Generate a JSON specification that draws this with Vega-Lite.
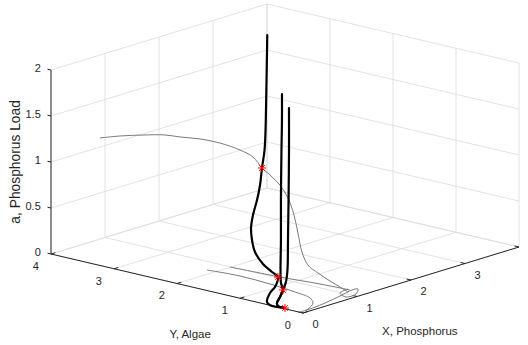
{
  "$schema": "https://vega.github.io/schema/vega-lite/v6.json",
  "autosize": {"type": "fit", "contains": "padding"},
  "width": 528,
  "height": 345,
  "padding": 0,
  "background": "white",
  "config": {"view": {"stroke": null}, "text": {"font": "Liberation Sans"}},
  "datasets": {
    "xv": [{"t": 0, "lab": "0"}, {"t": 1, "lab": "1"}, {"t": 2, "lab": "2"}, {"t": 3, "lab": "3"}, {"t": 4, "lab": "4"}],
    "yv": [{"t": 0, "lab": "0"}, {"t": 1, "lab": "1"}, {"t": 2, "lab": "2"}, {"t": 3, "lab": "3"}, {"t": 4, "lab": "4"}],
    "zv": [{"t": 0, "lab": "0"}, {"t": 0.5, "lab": "0.5"}, {"t": 1, "lab": "1"}, {"t": 1.5, "lab": "1.5"}, {"t": 2, "lab": "2"}],
    "axes": [
      {"X": 0, "Y": 4, "Z": 0, "X2": 0, "Y2": 4, "Z2": 2},
      {"X": 0, "Y": 0, "Z": 0, "X2": 0, "Y2": 4, "Z2": 0},
      {"X": 0, "Y": 0, "Z": 0, "X2": 4, "Y2": 0, "Z2": 0}
    ],
    "titles": [
      {"lab": "Y, Algae", "X": -0.2, "Y": 1.62, "Z": -0.46},
      {"lab": "X, Phosphorus", "X": 1.93, "Y": -0.2, "Z": -0.52}
    ],
    "vtitle": [{"lab": "a, Phosphorus Load", "X": -0.5, "Y": 4.13, "Z": 1.07}],
    "gray": [
      {"id": "G", "o": 1, "X": 0.586, "Y": 3.725, "Z": 1.2},
      {"id": "G", "o": 2, "X": 0.815, "Y": 3.604, "Z": 1.2},
      {"id": "G", "o": 3, "X": 1.065, "Y": 3.453, "Z": 1.19},
      {"id": "G", "o": 4, "X": 1.307, "Y": 3.312, "Z": 1.17},
      {"id": "G", "o": 5, "X": 1.421, "Y": 3.171, "Z": 1.15},
      {"id": "G", "o": 6, "X": 1.609, "Y": 3.014, "Z": 1.12},
      {"id": "G", "o": 7, "X": 1.755, "Y": 2.822, "Z": 1.08},
      {"id": "G", "o": 8, "X": 1.834, "Y": 2.572, "Z": 1.03},
      {"id": "G", "o": 9, "X": 1.856, "Y": 2.384, "Z": 0.98},
      {"id": "G", "o": 10, "X": 1.805, "Y": 2.198, "Z": 0.9},
      {"id": "G", "o": 11, "X": 1.787, "Y": 2.056, "Z": 0.85},
      {"id": "G", "o": 12, "X": 1.743, "Y": 1.86, "Z": 0.78},
      {"id": "G", "o": 13, "X": 1.678, "Y": 1.676, "Z": 0.68},
      {"id": "G", "o": 14, "X": 1.554, "Y": 1.475, "Z": 0.55},
      {"id": "G", "o": 15, "X": 1.442, "Y": 1.316, "Z": 0.4},
      {"id": "G", "o": 16, "X": 1.296, "Y": 1.127, "Z": 0.25},
      {"id": "G", "o": 17, "X": 1.213, "Y": 0.961, "Z": 0.15},
      {"id": "G", "o": 18, "X": 1.177, "Y": 0.771, "Z": 0.1},
      {"id": "G", "o": 19, "X": 1.126, "Y": 0.536, "Z": 0.06},
      {"id": "G", "o": 20, "X": 1.094, "Y": 0.351, "Z": 0.03},
      {"id": "G", "o": 21, "X": 1.082, "Y": 0.214, "Z": 0},
      {"id": "F1", "o": 1, "X": 0.992, "Y": 2.009, "Z": 0},
      {"id": "F1", "o": 2, "X": 1.021, "Y": 1.637, "Z": 0},
      {"id": "F1", "o": 3, "X": 1.05, "Y": 1.266, "Z": 0},
      {"id": "F1", "o": 4, "X": 1.132, "Y": 0.7, "Z": 0},
      {"id": "F1", "o": 5, "X": 1.167, "Y": 0.253, "Z": 0},
      {"id": "F2", "o": 1, "X": 0.704, "Y": 2.128, "Z": 0},
      {"id": "F2", "o": 2, "X": 0.764, "Y": 1.654, "Z": 0},
      {"id": "F2", "o": 3, "X": 0.73, "Y": 1.15, "Z": 0},
      {"id": "F2", "o": 4, "X": 0.657, "Y": 0.69, "Z": 0},
      {"id": "F2", "o": 5, "X": 0.571, "Y": 0.378, "Z": 0},
      {"id": "F2", "o": 6, "X": 0.423, "Y": 0.204, "Z": 0},
      {"id": "F2", "o": 7, "X": 0.177, "Y": 0.073, "Z": 0},
      {"id": "F2", "o": 8, "X": 0.01, "Y": 0.056, "Z": 0},
      {"id": "F3", "o": 1, "X": 0.085, "Y": 0.041, "Z": 0},
      {"id": "F3", "o": 2, "X": 0.52, "Y": 0.096, "Z": 0},
      {"id": "F3", "o": 3, "X": 0.88, "Y": 0.167, "Z": 0},
      {"id": "F3", "o": 4, "X": 1.183, "Y": 0.236, "Z": 0},
      {"id": "F3", "o": 5, "X": 1.265, "Y": 0.212, "Z": 0},
      {"id": "F3", "o": 6, "X": 1.078, "Y": 0.083, "Z": 0},
      {"id": "F3", "o": 7, "X": 0.894, "Y": 0.084, "Z": 0},
      {"id": "F3", "o": 8, "X": 0.983, "Y": 0.255, "Z": 0},
      {"id": "F3", "o": 9, "X": 1.185, "Y": 0.302, "Z": 0}
    ],
    "black": [
      {"id": "A", "o": 1, "X": 0.027, "Y": 0.309, "Z": 0},
      {"id": "A", "o": 2, "X": 0, "Y": 0.52, "Z": 0},
      {"id": "A", "o": 3, "X": 0.025, "Y": 0.593, "Z": 0.02},
      {"id": "A", "o": 4, "X": 0.106, "Y": 0.615, "Z": 0.1},
      {"id": "A", "o": 5, "X": 0.194, "Y": 0.611, "Z": 0.15},
      {"id": "A", "o": 6, "X": 0.245, "Y": 0.607, "Z": 0.25},
      {"id": "A", "o": 7, "X": 0.211, "Y": 0.673, "Z": 0.3},
      {"id": "A", "o": 8, "X": 0.255, "Y": 0.854, "Z": 0.35},
      {"id": "A", "o": 9, "X": 0.287, "Y": 1.008, "Z": 0.45},
      {"id": "A", "o": 10, "X": 0.359, "Y": 1.117, "Z": 0.55},
      {"id": "A", "o": 11, "X": 0.447, "Y": 1.208, "Z": 0.65},
      {"id": "A", "o": 12, "X": 0.593, "Y": 1.302, "Z": 0.75},
      {"id": "A", "o": 13, "X": 0.886, "Y": 1.489, "Z": 0.83},
      {"id": "A", "o": 14, "X": 1.302, "Y": 1.798, "Z": 0.87},
      {"id": "A", "o": 15, "X": 1.805, "Y": 2.198, "Z": 0.9},
      {"id": "A", "o": 16, "X": 2.285, "Y": 2.569, "Z": 0.95},
      {"id": "A", "o": 17, "X": 2.664, "Y": 2.878, "Z": 1.05},
      {"id": "A", "o": 18, "X": 2.88, "Y": 3.056, "Z": 1.2},
      {"id": "A", "o": 19, "X": 2.967, "Y": 3.122, "Z": 1.5},
      {"id": "A", "o": 20, "X": 3.039, "Y": 3.177, "Z": 1.75},
      {"id": "A", "o": 21, "X": 3.033, "Y": 3.167, "Z": 1.97},
      {"id": "B", "o": 1, "X": 0.027, "Y": 0.309, "Z": 0},
      {"id": "B", "o": 2, "X": 0.039, "Y": 0.431, "Z": 0},
      {"id": "B", "o": 3, "X": 0.071, "Y": 0.474, "Z": 0.02},
      {"id": "B", "o": 4, "X": 0.175, "Y": 0.515, "Z": 0.06},
      {"id": "B", "o": 5, "X": 0.313, "Y": 0.586, "Z": 0.1},
      {"id": "B", "o": 6, "X": 0.347, "Y": 0.647, "Z": 0.16},
      {"id": "B", "o": 7, "X": 0.411, "Y": 0.709, "Z": 0.28},
      {"id": "B", "o": 8, "X": 0.497, "Y": 0.776, "Z": 0.58},
      {"id": "B", "o": 9, "X": 0.701, "Y": 0.951, "Z": 0.95},
      {"id": "B", "o": 10, "X": 1.0, "Y": 1.199, "Z": 1.4},
      {"id": "B", "o": 11, "X": 1.245, "Y": 1.401, "Z": 1.65},
      {"id": "B", "o": 12, "X": 1.348, "Y": 1.489, "Z": 1.9},
      {"id": "C", "o": 1, "X": 0.027, "Y": 0.309, "Z": 0},
      {"id": "C", "o": 2, "X": 0.039, "Y": 0.431, "Z": 0},
      {"id": "C", "o": 3, "X": 0.071, "Y": 0.474, "Z": 0.02},
      {"id": "C", "o": 4, "X": 0.175, "Y": 0.515, "Z": 0.06},
      {"id": "C", "o": 5, "X": 0.313, "Y": 0.586, "Z": 0.1},
      {"id": "C", "o": 6, "X": 0.358, "Y": 0.578, "Z": 0.18},
      {"id": "C", "o": 7, "X": 0.403, "Y": 0.592, "Z": 0.3},
      {"id": "C", "o": 8, "X": 0.491, "Y": 0.659, "Z": 0.6},
      {"id": "C", "o": 9, "X": 0.605, "Y": 0.748, "Z": 1.0},
      {"id": "C", "o": 10, "X": 0.904, "Y": 0.997, "Z": 1.45},
      {"id": "C", "o": 11, "X": 1.082, "Y": 1.15, "Z": 1.85}
    ],
    "stars": [
      {"X": 0.245, "Y": 0.607, "Z": 0.25},
      {"X": 0.313, "Y": 0.586, "Z": 0.1},
      {"X": 0.027, "Y": 0.309, "Z": 0},
      {"X": 1.805, "Y": 2.198, "Z": 0.9}
    ]
  },
  "encoding": {
    "x": {"field": "u", "type": "quantitative", "scale": {"domain": [-303, 225], "nice": false, "zero": false}, "axis": null},
    "y": {"field": "w", "type": "quantitative", "scale": {"domain": [-32, 313], "nice": false, "zero": false}, "axis": null}
  },
  "layer": [
    {
      "data": {"name": "xv"},
      "transform": [
        {"calculate": "54*datum.t-252", "as": "u"}, {"calculate": "16.5*datum.t+59", "as": "w"},
        {"calculate": "54*datum.t-252", "as": "u2"}, {"calculate": "16.5*datum.t+243", "as": "w2"}
      ],
      "mark": {"type": "rule", "color": "#dfdfdf", "strokeWidth": 0.9},
      "encoding": {"x2": {"field": "u2"}, "y2": {"field": "w2"}}
    },
    {
      "data": {"name": "xv"},
      "transform": [
        {"calculate": "54*datum.t", "as": "u"}, {"calculate": "16.5*datum.t", "as": "w"},
        {"calculate": "54*datum.t-252", "as": "u2"}, {"calculate": "16.5*datum.t+59", "as": "w2"}
      ],
      "mark": {"type": "rule", "color": "#dfdfdf", "strokeWidth": 0.9},
      "encoding": {"x2": {"field": "u2"}, "y2": {"field": "w2"}}
    },
    {
      "data": {"name": "yv"},
      "transform": [
        {"calculate": "216-63*datum.t", "as": "u"}, {"calculate": "66+14.75*datum.t", "as": "w"},
        {"calculate": "216-63*datum.t", "as": "u2"}, {"calculate": "250+14.75*datum.t", "as": "w2"}
      ],
      "mark": {"type": "rule", "color": "#dfdfdf", "strokeWidth": 0.9},
      "encoding": {"x2": {"field": "u2"}, "y2": {"field": "w2"}}
    },
    {
      "data": {"name": "yv"},
      "transform": [
        {"calculate": "-63*datum.t", "as": "u"}, {"calculate": "14.75*datum.t", "as": "w"},
        {"calculate": "216-63*datum.t", "as": "u2"}, {"calculate": "66+14.75*datum.t", "as": "w2"}
      ],
      "mark": {"type": "rule", "color": "#dfdfdf", "strokeWidth": 0.9},
      "encoding": {"x2": {"field": "u2"}, "y2": {"field": "w2"}}
    },
    {
      "data": {"name": "zv"},
      "transform": [
        {"calculate": "-252", "as": "u"}, {"calculate": "59+92*datum.t", "as": "w"},
        {"calculate": "-36", "as": "u2"}, {"calculate": "125+92*datum.t", "as": "w2"}
      ],
      "mark": {"type": "rule", "color": "#dfdfdf", "strokeWidth": 0.9},
      "encoding": {"x2": {"field": "u2"}, "y2": {"field": "w2"}}
    },
    {
      "data": {"name": "zv"},
      "transform": [
        {"calculate": "216", "as": "u"}, {"calculate": "66+92*datum.t", "as": "w"},
        {"calculate": "-36", "as": "u2"}, {"calculate": "125+92*datum.t", "as": "w2"}
      ],
      "mark": {"type": "rule", "color": "#dfdfdf", "strokeWidth": 0.9},
      "encoding": {"x2": {"field": "u2"}, "y2": {"field": "w2"}}
    },
    {
      "data": {"name": "axes"},
      "transform": [
        {"calculate": "54*datum.X-63*datum.Y", "as": "u"}, {"calculate": "16.5*datum.X+14.75*datum.Y+92*datum.Z", "as": "w"},
        {"calculate": "54*datum.X2-63*datum.Y2", "as": "u2"}, {"calculate": "16.5*datum.X2+14.75*datum.Y2+92*datum.Z2", "as": "w2"}
      ],
      "mark": {"type": "rule", "color": "#262626", "strokeWidth": 1},
      "encoding": {"x2": {"field": "u2"}, "y2": {"field": "w2"}}
    },
    {
      "data": {"name": "zv"},
      "transform": [
        {"calculate": "-252", "as": "u"}, {"calculate": "59+92*datum.t", "as": "w"},
        {"calculate": "-255.5", "as": "u2"}, {"calculate": "59.8+92*datum.t", "as": "w2"}
      ],
      "mark": {"type": "rule", "color": "#262626", "strokeWidth": 1},
      "encoding": {"x2": {"field": "u2"}, "y2": {"field": "w2"}}
    },
    {
      "data": {"name": "yv"},
      "transform": [
        {"calculate": "-63*datum.t", "as": "u"}, {"calculate": "14.75*datum.t", "as": "w"},
        {"calculate": "4.3-63*datum.t", "as": "u2"}, {"calculate": "1.3+14.75*datum.t", "as": "w2"}
      ],
      "mark": {"type": "rule", "color": "#262626", "strokeWidth": 1},
      "encoding": {"x2": {"field": "u2"}, "y2": {"field": "w2"}}
    },
    {
      "data": {"name": "xv"},
      "transform": [
        {"calculate": "54*datum.t", "as": "u"}, {"calculate": "16.5*datum.t", "as": "w"},
        {"calculate": "54*datum.t-4.4", "as": "u2"}, {"calculate": "16.5*datum.t+1.0", "as": "w2"}
      ],
      "mark": {"type": "rule", "color": "#262626", "strokeWidth": 1},
      "encoding": {"x2": {"field": "u2"}, "y2": {"field": "w2"}}
    },
    {
      "data": {"name": "zv"},
      "transform": [
        {"calculate": "-262.2", "as": "u"}, {"calculate": "59.6+92*datum.t", "as": "w"}
      ],
      "mark": {"type": "text", "align": "right", "baseline": "middle", "fontSize": 11, "color": "#262626"},
      "encoding": {"text": {"field": "lab"}}
    },
    {
      "data": {"name": "yv"},
      "transform": [
        {"calculate": "-15.1-63*datum.t", "as": "u"}, {"calculate": "-12.9+14.75*datum.t", "as": "w"}
      ],
      "mark": {"type": "text", "align": "center", "baseline": "middle", "fontSize": 11, "color": "#262626"},
      "encoding": {"text": {"field": "lab"}}
    },
    {
      "data": {"name": "xv"},
      "transform": [
        {"filter": "datum.t < 4"},
        {"calculate": "54*datum.t+12.6", "as": "u"}, {"calculate": "16.5*datum.t-12.15", "as": "w"}
      ],
      "mark": {"type": "text", "align": "center", "baseline": "middle", "fontSize": 11, "color": "#262626"},
      "encoding": {"text": {"field": "lab"}}
    },
    {
      "data": {"name": "titles"},
      "transform": [
        {"calculate": "54*datum.X-63*datum.Y", "as": "u"}, {"calculate": "16.5*datum.X+14.75*datum.Y+92*datum.Z", "as": "w"}
      ],
      "mark": {"type": "text", "align": "center", "baseline": "middle", "fontSize": 11.5, "color": "#262626"},
      "encoding": {"text": {"field": "lab"}}
    },
    {
      "data": {"name": "vtitle"},
      "transform": [
        {"calculate": "54*datum.X-63*datum.Y", "as": "u"}, {"calculate": "16.5*datum.X+14.75*datum.Y+92*datum.Z", "as": "w"}
      ],
      "mark": {"type": "text", "align": "center", "baseline": "middle", "fontSize": 13.8, "angle": 270, "color": "#262626"},
      "encoding": {"text": {"field": "lab"}}
    },
    {
      "data": {"name": "gray"},
      "transform": [
        {"calculate": "54*datum.X-63*datum.Y", "as": "u"}, {"calculate": "16.5*datum.X+14.75*datum.Y+92*datum.Z", "as": "w"}
      ],
      "mark": {"type": "line", "color": "#7a7a7a", "strokeWidth": 1, "interpolate": "catmull-rom"},
      "encoding": {"detail": {"field": "id"}, "order": {"field": "o", "type": "quantitative"}}
    },
    {
      "data": {"name": "black"},
      "transform": [
        {"calculate": "54*datum.X-63*datum.Y", "as": "u"}, {"calculate": "16.5*datum.X+14.75*datum.Y+92*datum.Z", "as": "w"}
      ],
      "mark": {"type": "line", "color": "#000000", "strokeWidth": 2.2, "interpolate": "catmull-rom", "strokeJoin": "round", "strokeCap": "round"},
      "encoding": {"detail": {"field": "id"}, "order": {"field": "o", "type": "quantitative"}}
    },
    {
      "data": {"name": "stars"},
      "transform": [
        {"calculate": "54*datum.X-63*datum.Y", "as": "u"}, {"calculate": "16.5*datum.X+14.75*datum.Y+92*datum.Z", "as": "w"}
      ],
      "mark": {"type": "point", "shape": "M-1,0L1,0M0,-1L0,1M-0.7,-0.7L0.7,0.7M-0.7,0.7L0.7,-0.7", "size": 64, "filled": false, "stroke": "#ff0000", "strokeWidth": 1, "opacity": 1}
    }
  ]
}
